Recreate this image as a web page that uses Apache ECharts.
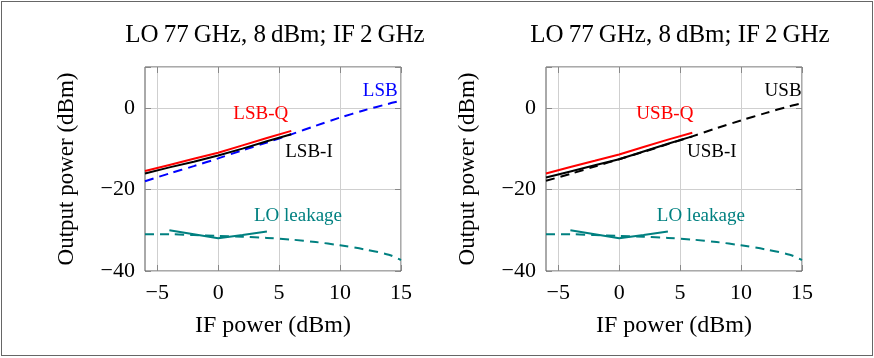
<!DOCTYPE html>
<html>
<head>
<meta charset="utf-8">
<script src="https://cdn.jsdelivr.net/npm/echarts@6/dist/echarts.min.js"></script>
<style>
  html, body { margin: 0; padding: 0; background: #fff; }
  #frame { position: absolute; left: 1px; top: 1px; width: 870px; height: 353px; border: 1px solid #666; }
  #chart { width: 874px; height: 358px; }
</style>
</head>
<body>
<div id="frame"></div>
<div id="chart"></div>
<script>
// IF sweep (dBm) for the image-reject mixer measurements
const ifPowerSideband = [-6, -4, -2, 0, 2, 4, 6, 8, 10, 12, 14, 15];
const ifPowerIQ = [-6, -4, -2, 0, 2, 4, 6];
const ifPowerLeakIQ = [-4, -2, 0, 2, 4];

// Lower sideband panel
const lsbQ = [-15.5, -14.0, -12.5, -11.0, -9.2, -7.4, -5.65];
const lsbI = [-16.1, -14.6, -13.2, -11.7, -10.0, -8.2, -6.5];
const lsb = [-18.0, -16.1, -14.3, -12.4, -10.4, -8.5, -6.5, -4.4, -2.4, -0.6, 1.0, 1.7];

// Upper sideband panel
const usbQ = [-16.1, -14.5, -13.0, -11.45, -9.6, -7.8, -6.1];
const usbI = [-17.1, -15.6, -14.1, -12.6, -10.7, -8.8, -7.0];
const usb = [-17.9, -16.2, -14.4, -12.6, -10.8, -8.9, -7.0, -5.0, -3.1, -1.3, 0.4, 1.1];

// LO leakage (same in both panels)
const loLeakSweep = [-31.0, -31.0, -31.2, -31.4, -31.6, -31.9, -32.3, -32.9, -33.7, -34.7, -36.0, -37.3];
const loLeakIQ = [-30.0, -31.0, -32.0, -31.2, -30.3];

const xTicks = [-5, 0, 5, 10, 15];
const yTicks = [-40, -20, 0];
const panelTitle = 'LO\u200977\u2009GHz, 8\u2009dBm; IF\u20092\u2009GHz';

const FONT = "'Liberation Serif', 'DejaVu Serif', serif";
const RED = '#ff0000', BLUE = '#0000ff', TEAL = '#008080', BLACK = '#000000';

const fmt = v => String(v).replace('-', '\u2212');
const pair = (xs, ys) => xs.map((x, i) => [x, ys[i]]);

const panels = [
  { left: 145, center: 270,
    q: lsbQ, i: lsbI, sb: lsb, sbColor: BLUE,
    names: ['LSB-Q', 'LSB-I', 'LSB'],
    labelAt: [[3.5, -1.6], [7.45, -10.9], [13.3, 4.1], [6.55, -26.6]] },
  { left: 546, center: 675,
    q: usbQ, i: usbI, sb: usb, sbColor: BLACK,
    names: ['USB-Q', 'USB-I', 'USB'],
    labelAt: [[3.75, -1.6], [7.6, -10.9], [13.45, 4.1], [6.7, -26.6]] }
];

const grids = panels.map(p => ({
  left: p.left, top: 67, width: 256, height: 204,
  show: true, borderColor: '#555', borderWidth: 1, backgroundColor: 'transparent'
}));

const tickStyle = () => ({ show: true, inside: true, length: 6, lineStyle: { color: '#888', width: 1 } });
const hiddenLine = { show: false, onZero: false };

const xAxes = [];
const yAxes = [];
panels.forEach((p, g) => {
  xAxes.push({
    type: 'value', gridIndex: g, min: -6, max: 15,
    name: 'IF power (dBm)', nameLocation: 'middle', nameGap: 43,
    nameTextStyle: { fontFamily: FONT, fontSize: 24, color: '#000' },
    axisLine: hiddenLine,
    axisTick: Object.assign({ customValues: xTicks }, tickStyle()),
    axisLabel: { customValues: xTicks, formatter: fmt, fontFamily: FONT, fontSize: 22, color: '#000', margin: 11 },
    splitLine: { show: true, lineStyle: { color: '#cfcfcf', width: 1 } }
  });
  yAxes.push({
    type: 'value', gridIndex: g, min: -40, max: 10, interval: 20,
    name: 'Output power (dBm)', nameLocation: 'middle', nameGap: 67,
    nameTextStyle: { fontFamily: FONT, fontSize: 23, color: '#000' },
    axisLine: hiddenLine,
    axisTick: tickStyle(),
    axisLabel: { formatter: fmt, fontFamily: FONT, fontSize: 22, color: '#000', margin: 10,
                 customValues: yTicks },
    splitLine: { show: true, lineStyle: { color: '#cfcfcf', width: 1 } }
  });
});
// mirrored ticks on the top and right edges
panels.forEach((p, g) => {
  xAxes.push({
    type: 'value', gridIndex: g, min: -6, max: 15, position: 'top',
    axisLine: hiddenLine, axisLabel: { show: false }, splitLine: { show: false },
    axisTick: Object.assign({ customValues: xTicks }, tickStyle())
  });
  yAxes.push({
    type: 'value', gridIndex: g, min: -40, max: 10, interval: 20, position: 'right',
    axisLine: hiddenLine, axisLabel: { show: false }, splitLine: { show: false },
    axisTick: tickStyle()
  });
});

// text tag anchored at a data coordinate
function tag(text, color, coord, size) {
  return {
    silent: true, animation: false,
    symbol: 'circle', symbolSize: 1,
    itemStyle: { color: 'rgba(0,0,0,0)' },
    label: { show: true, position: 'inside', formatter: text, color: color,
             fontFamily: FONT, fontSize: size },
    data: [{ coord: coord, value: 0 }]
  };
}

const series = [];
panels.forEach((p, g) => {
  const base = { type: 'line', xAxisIndex: g, yAxisIndex: g, showSymbol: false, symbol: 'none',
                 animation: false, silent: true, z: 3 };
  series.push(Object.assign({}, base, {
    name: p.names[2], data: pair(ifPowerSideband, p.sb),
    smooth: 0.3,
    lineStyle: { color: p.sbColor, width: 2, type: [9, 6] },
    markPoint: tag(p.names[2], p.sbColor, p.labelAt[2], 19)
  }));
  series.push(Object.assign({}, base, {
    name: p.names[1], data: pair(ifPowerIQ, p.i),
    lineStyle: { color: BLACK, width: 2 },
    markPoint: tag(p.names[1], BLACK, p.labelAt[1], 19)
  }));
  series.push(Object.assign({}, base, {
    name: p.names[0], data: pair(ifPowerIQ, p.q),
    lineStyle: { color: RED, width: 2 },
    markPoint: tag(p.names[0], RED, p.labelAt[0], 19)
  }));
  series.push(Object.assign({}, base, {
    name: 'LO leakage sweep', data: pair(ifPowerSideband, loLeakSweep),
    smooth: 0.3,
    lineStyle: { color: TEAL, width: 2, type: [9, 6] },
    markPoint: tag('LO leakage', TEAL, p.labelAt[3], 19)
  }));
  series.push(Object.assign({}, base, {
    name: 'LO leakage IQ', data: pair(ifPowerLeakIQ, loLeakIQ),
    lineStyle: { color: TEAL, width: 2 }
  }));
});

const chart = echarts.init(document.getElementById('chart'), null, { renderer: 'canvas' });
chart.setOption({
  animation: false,
  backgroundColor: 'transparent',
  title: panels.map(p => ({
    text: panelTitle, left: p.center, top: 18, textAlign: 'center',
    textStyle: { fontFamily: FONT, fontSize: 25, fontWeight: 'normal', color: '#000' }
  })),
  grid: grids,
  xAxis: xAxes,
  yAxis: yAxes,
  series: series
});
</script>
</body>
</html>
